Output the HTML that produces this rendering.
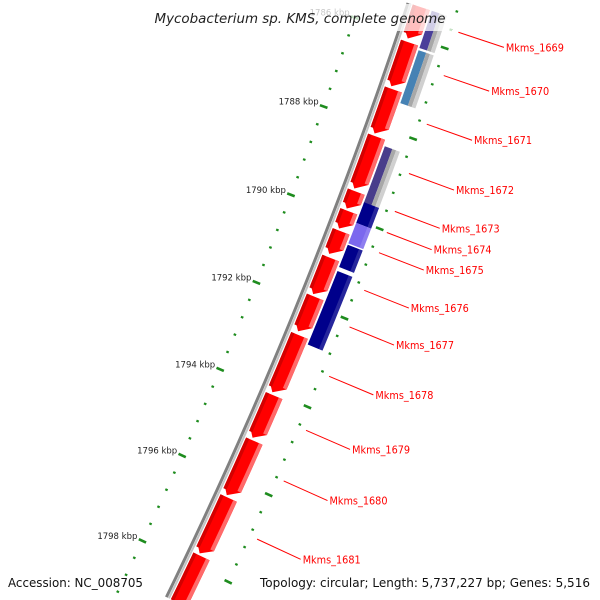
<!DOCTYPE html>
<html><head><meta charset="utf-8"><style>
html,body{margin:0;padding:0;background:#fff;width:600px;height:600px;overflow:hidden;}
svg{display:block;overflow:hidden;}
text{font-family:"DejaVu Sans","Liberation Sans",sans-serif;}
</style></head><body>
<svg id="map" width="600" height="600" viewBox="0 0 600 600" xmlns="http://www.w3.org/2000/svg">
<g id="rings"></g>
<g id="backbone"></g>
<g id="genes"></g>
<g id="labels"></g>
<rect x="148" y="4" width="304" height="27" fill="#fff" opacity="0.75"/>
<text x="300" y="23" text-anchor="middle" font-size="13" font-style="italic" fill="#222" textLength="291" lengthAdjust="spacingAndGlyphs">Mycobacterium sp. KMS, complete genome</text>
<text x="8" y="587" font-size="12.5" fill="#111" textLength="135" lengthAdjust="spacingAndGlyphs">Accession: NC_008705</text>
<text x="260" y="587" font-size="12.5" fill="#111" textLength="330" lengthAdjust="spacingAndGlyphs">Topology: circular; Length: 5,737,227 bp; Genes: 5,516</text>
</svg>
<script>
// ---- data (kbp) ----
const redStart=[1785.07,1786.13,1787.17,1788.22,1789.45,1789.89,1790.34,1790.94,1791.82,1792.69,1794.06,1795.10,1796.41,1797.76];
const redEnd=[1786.06,1787.12,1788.17,1789.40,1789.85,1790.30,1790.87,1791.78,1792.62,1794.01,1795.05,1796.37,1797.72,1799.17];
const blueStart=[1784.90,1786.22,1788.35,1789.60,1790.06,1790.55,1791.14];
const blueEnd=[1786.17,1787.39,1789.63,1790.06,1790.52,1791.05,1792.80];
const blueColor=['#4a3f9a','#4682b4','#483d8b','#00008b','#7b68ee','#00008b','#00008b'];
const blueGray=[true,true,true,false,false,false,false];
const labelNames=['Mkms_1669','Mkms_1670','Mkms_1671','Mkms_1672','Mkms_1673','Mkms_1674','Mkms_1675','Mkms_1676','Mkms_1677','Mkms_1678','Mkms_1679','Mkms_1680','Mkms_1681'];
const labelPos=[1785.60,1786.55,1787.62,1788.71,1789.55,1790.02,1790.47,1791.31,1792.13,1793.24,1794.46,1795.61,1796.94];
const tickStart=1785.2, tickEnd=1799.6, tickStep=0.4, majorEvery=2;

// ---- geometry ----
const CX=-4099, CY=-1484, R=4746, K0=1788, A0=19.78, DEG=0.574;
const VMIN=1785.35, VMAX=1798.85;
const NS='http://www.w3.org/2000/svg';
function ang(k){return (A0+(k-K0)*DEG)*Math.PI/180;}
function pt(r,k){const a=ang(k);return [CX+r*Math.cos(a),CY+r*Math.sin(a)];}
function arcPts(r,k1,k2,n){const p=[];for(let i=0;i<=n;i++){p.push(pt(r,k1+(k2-k1)*i/n));}return p;}
function poly(pts,fill,parent){const e=document.createElementNS(NS,'polygon');e.setAttribute('points',pts.map(p=>p[0].toFixed(2)+','+p[1].toFixed(2)).join(' '));e.setAttribute('fill',fill);parent.appendChild(e);return e;}
function band(r1,r2,k1,k2,fill,parent){return poly(arcPts(r2,k1,k2,12).concat(arcPts(r1,k2,k1,12)),fill,parent);}
function arcPath(r,k1,k2){const p=arcPts(r,k1,k2,60);return 'M'+p.map(q=>q[0].toFixed(2)+','+q[1].toFixed(2)).join(' L');}
function inView(p){return p[1]>=0.5&&p[1]<=599.5&&p[0]>=0&&p[0]<=600;}

// backbone
const bb=document.getElementById('backbone');
[[R,'#808080',3],[R+2.8,'#c4c4c4',2]].forEach(s=>{
  const e=document.createElementNS(NS,'path');
  e.setAttribute('d',arcPath(s[0],VMIN,VMAX));
  e.setAttribute('stroke',s[1]);e.setAttribute('stroke-width',s[2]);e.setAttribute('fill','none');
  
  
  bb.appendChild(e);
});

// tick rings
const rings=document.getElementById('rings');
const nT=Math.round((tickEnd-tickStart)/tickStep);
for(let i=0;i<=nT;i++){
  const k=+(tickStart+i*tickStep).toFixed(2);
  const major=Math.abs(k/majorEvery-Math.round(k/majorEvery))<1e-6;
  [R-46,R+49].forEach((rr,side)=>{
    const len=major?8:2.6;
    const a=pt(rr-len/2,k), b=pt(rr+len/2,k);
    if(!inView([a[0],a[1]-2])||!inView([b[0],b[1]+2])) return;
    const l=document.createElementNS(NS,'line');
    l.setAttribute('x1',a[0]);l.setAttribute('y1',a[1]);l.setAttribute('x2',b[0]);l.setAttribute('y2',b[1]);
    l.setAttribute('stroke','#1e8c1e');l.setAttribute('stroke-width',major?2.6:2.2);
    
    
    rings.appendChild(l);
    if(major&&side===0){
      const c=pt(rr,k);
      if(c[1]-12<0) return;
      const t=document.createElementNS(NS,'text');
      t.setAttribute('x',(c[0]-5).toFixed(1));t.setAttribute('y',(c[1]-2).toFixed(1));
      t.setAttribute('text-anchor','end');t.setAttribute('font-size','8.5');t.setAttribute('fill','#222');
      
      
      t.textContent=Math.round(k)+' kbp';
      rings.appendChild(t);
    }
  });
}

// genes
const genes=document.getElementById('genes');
const head=0.17;
for(let i=0;i<redStart.length;i++){
  const g=document.createElementNS(NS,'g');
  
  
  const s=Math.max(redStart[i],VMIN);
  const clipped=redEnd[i]>VMAX;
  const e=Math.min(redEnd[i],VMAX);
  const h=clipped?0:Math.min(head,(e-s)*0.5);
  const r1=R+5, r2=R+23;
  let pts;
  if(clipped){ pts=arcPts(r2,s,e,10).concat(arcPts(r1,e,s,10)); }
  else { pts=arcPts(r2,s,e-h,10).concat([pt((r1+r2)/2-3,e)]).concat(arcPts(r1,e-h,s,10)); }
  poly(pts,'#ff0000',g);
  band(r1,r1+3.5,s,e-h*0.6,'#d40000',g);
  band(r2-4,r2,s,e-h,'#ff6a6a',g);
  genes.appendChild(g);
}
for(let i=0;i<blueStart.length;i++){
  const g=document.createElementNS(NS,'g');
  
  
  const s=Math.max(blueStart[i],VMIN), e=Math.min(blueEnd[i],VMAX);
  if(blueGray[i]){
    band(R+25,R+33,s,e,blueColor[i],g);
    band(R+33,R+37,s,e,'#a8a8a8',g);
    band(R+37,R+41,s,e,'#d0d0d0',g);
  } else {
    band(R+25,R+41,s,e,blueColor[i],g);
    band(R+37,R+41,s,e,'rgba(255,255,255,0.15)',g);
  }
  genes.appendChild(g);
}

// labels
const labels=document.getElementById('labels');
for(let i=0;i<labelNames.length;i++){
  const a=pt(R+57,labelPos[i]), b=pt(R+105,labelPos[i]);
  const l=document.createElementNS(NS,'line');
  l.setAttribute('x1',a[0]);l.setAttribute('y1',a[1]);l.setAttribute('x2',b[0]);l.setAttribute('y2',b[1]);
  l.setAttribute('stroke','#ff0000');l.setAttribute('stroke-width','1');
  
  
  labels.appendChild(l);
  const t=document.createElementNS(NS,'text');
  t.setAttribute('x',(b[0]+2).toFixed(1));t.setAttribute('y',(b[1]+4).toFixed(1));
  t.setAttribute('font-size','11');t.setAttribute('fill','#ff0000');
  t.setAttribute('textLength','58');t.setAttribute('lengthAdjust','spacingAndGlyphs');
  
  
  t.textContent=labelNames[i];
  labels.appendChild(t);
}
</script>
</body></html>
